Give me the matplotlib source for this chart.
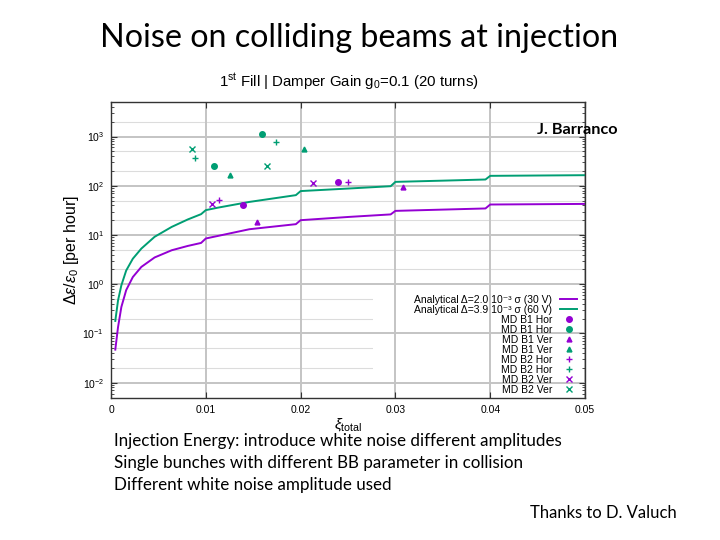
import matplotlib
matplotlib.use("Agg")
import matplotlib.pyplot as plt
from matplotlib.ticker import LogLocator, FixedLocator, NullFormatter
from matplotlib.patches import Rectangle

plt.rcParams['font.family'] = ['Liberation Sans', 'DejaVu Sans']
plt.rcParams['mathtext.fontset'] = 'custom'
plt.rcParams['mathtext.rm'] = 'Liberation Sans'
plt.rcParams['mathtext.it'] = 'Liberation Sans:italic'
plt.rcParams['mathtext.bf'] = 'Liberation Sans:bold'

# ---- data ----
xi_curve = [0.00045, 0.00074, 0.00109, 0.0016, 0.0023, 0.0032, 0.0046, 0.0064, 0.0081,
            0.0095, 0.0100, 0.0113, 0.0146, 0.0195, 0.0200, 0.0251, 0.0295, 0.0300,
            0.0350, 0.0395, 0.0400, 0.0500]
analytical_30V = [0.047, 0.135, 0.345, 0.76, 1.4, 2.25, 3.5, 4.9, 6.0,
                  6.9, 8.5, 9.6, 13.1, 16.6, 20.0, 23.3, 26.2, 30.9,
                  32.8, 34.6, 41.6, 42.8]
analytical_60V = [0.18, 0.47, 0.95, 1.9, 3.3, 5.3, 9.2, 14.6, 20.7,
                  26.5, 32.0, 36.0, 47.0, 64.5, 78.0, 88.0, 98.0, 120.0,
                  127.0, 134.0, 159.0, 164.0]

b1_hor_p_x = [0.01396, 0.02395]; b1_hor_p_y = [40, 117]
b1_hor_g_x = [0.0109, 0.0159];   b1_hor_g_y = [247, 1150]
b1_ver_p_x = [0.0154, 0.0308];   b1_ver_p_y = [18.8, 95]
b1_ver_g_x = [0.0126, 0.0204];   b1_ver_g_y = [162, 571]
b2_hor_p_x = [0.0114, 0.0250];   b2_hor_p_y = [51, 122]
b2_hor_g_x = [0.0089, 0.0174];   b2_hor_g_y = [363, 769]
b2_ver_p_x = [0.0106, 0.0213];   b2_ver_p_y = [43, 113]
b2_ver_g_x = [0.0085, 0.0165];   b2_ver_g_y = [548, 247]

x_ticks = [0, 0.01, 0.02, 0.03, 0.04, 0.05]
x_ticklabels = ['0', '0.01', '0.02', '0.03', '0.04', '0.05']

PURPLE = '#9400d3'
GREEN = '#009e73'

fig = plt.figure(figsize=(7.2, 5.4), dpi=100)
ax = fig.add_axes([0.1542, 0.263, 0.6583, 0.548])

ax.set_yscale('log')
ax.set_xlim(0, 0.05)
ax.set_ylim(10**-2.31, 10**3.7)

ax.yaxis.set_major_locator(LogLocator(base=10, numticks=20))
ax.yaxis.set_minor_locator(LogLocator(base=10, subs=range(2, 10), numticks=20))
ax.yaxis.set_minor_formatter(NullFormatter())
ax.xaxis.set_major_locator(FixedLocator(x_ticks))
ax.set_xticklabels(x_ticklabels)
ax.grid(True, which='major', axis='both', color='#c4c4c4', lw=1.4, zorder=0)
for dec in range(-3, 4):
    for s in (2, 5):
        ax.axhline(s * 10.0**dec, color='#dcdcdc', lw=0.8, zorder=0)

# white key area (gnuplot key box hides the grid)
ax.add_patch(Rectangle((0.553, 0.0), 0.447, 0.372, transform=ax.transAxes,
                       facecolor='white', edgecolor='none', zorder=1))

ax.plot(xi_curve, analytical_30V, color=PURPLE, lw=1.4,
        label='Analytical \u0394=2.0 10\u207b\u00b3 \u03c3 (30 V)', zorder=3)
ax.plot(xi_curve, analytical_60V, color=GREEN, lw=1.4,
        label='Analytical \u0394=3.9 10\u207b\u00b3 \u03c3 (60 V)', zorder=3)

ax.plot(b1_hor_p_x, b1_hor_p_y, 'o', color=PURPLE, ms=4, ls='none', label='MD B1 Hor', zorder=4)
ax.plot(b1_hor_g_x, b1_hor_g_y, 'o', color=GREEN, ms=4, ls='none', label='MD B1 Hor', zorder=4)
ax.plot(b1_ver_p_x, b1_ver_p_y, '^', color=PURPLE, ms=3.5, ls='none', label='MD B1 Ver', zorder=4)
ax.plot(b1_ver_g_x, b1_ver_g_y, '^', color=GREEN, ms=3.5, ls='none', label='MD B1 Ver', zorder=4)
ax.plot(b2_hor_p_x, b2_hor_p_y, '+', color=PURPLE, ms=5, mew=1, ls='none', label='MD B2 Hor', zorder=4)
ax.plot(b2_hor_g_x, b2_hor_g_y, '+', color=GREEN, ms=5, mew=1, ls='none', label='MD B2 Hor', zorder=4)
ax.plot(b2_ver_p_x, b2_ver_p_y, 'x', color=PURPLE, ms=5, mew=1, ls='none', label='MD B2 Ver', zorder=4)
ax.plot(b2_ver_g_x, b2_ver_g_y, 'x', color=GREEN, ms=5, mew=1, ls='none', label='MD B2 Ver', zorder=4)

leg = ax.legend(loc='lower right', bbox_to_anchor=(0.99, 0.0), fontsize=7.5,
                markerfirst=False, frameon=False,
                labelspacing=0.0, handlelength=1.6, handletextpad=0.8,
                borderaxespad=0.1, borderpad=0.2)
for t in leg.get_texts():
    t.set_ha('right')
leg.set_zorder(5)

for sp in ax.spines.values():
    sp.set_color('#333333')
    sp.set_linewidth(1.0)
    sp.set_zorder(6)

ax.tick_params(which='both', direction='in', top=True, right=True, colors='#333333',
               labelcolor='black', labelsize=7.5)
ax.tick_params(which='major', length=4.5, width=0.8, pad=5)
ax.tick_params(which='minor', length=2.5, width=0.6)

ax.set_ylabel(r'$\Delta\epsilon/\epsilon_0$ [per hour]', fontsize=11.5, labelpad=1)
ax.set_xlabel(r'$\xi_{\rm total}$', fontsize=11, labelpad=1)

# texts
fig.text(0.499, 0.93, 'Noise on colliding beams at injection', ha='center', va='center',
         fontsize=23.2, family=['Lato', 'DejaVu Sans'])
fig.text(0.484, 0.848, r'1$^{\rm st}$ Fill | Damper Gain g$_0$=0.1 (20 turns)',
         ha='center', va='center', fontsize=10.8)
fig.text(0.746, 0.759, 'J. Barranco', ha='left', va='center', fontsize=11.7,
         fontweight='bold', family=['Lato', 'DejaVu Sans'])

lines = ['Injection Energy: introduce white noise different amplitudes',
         'Single bunches with different BB parameter in collision',
         'Different white noise amplitude used']
for i, s in enumerate(lines):
    fig.text(0.158, 0.183 - i * 0.0405, s, ha='left', va='center', fontsize=12.25,
             family=['Lato', 'DejaVu Sans'])
fig.text(0.940, 0.05, 'Thanks to D. Valuch', ha='right', va='center', fontsize=12.0,
         family=['Lato', 'DejaVu Sans'])

fig.savefig('out.png', dpi=100)
